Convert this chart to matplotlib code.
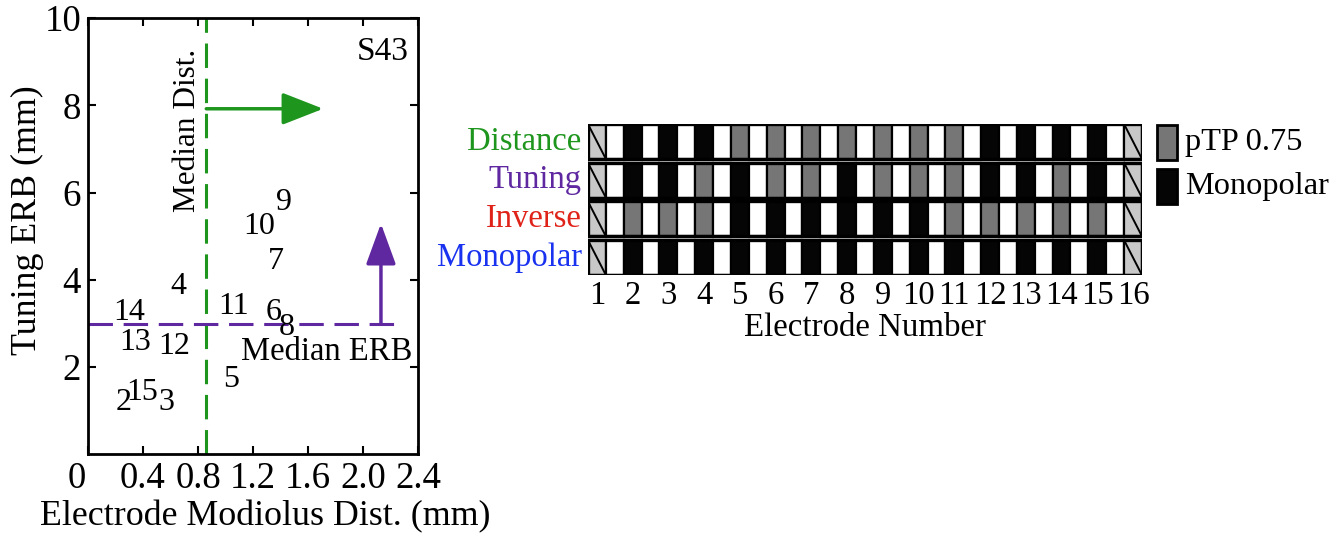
import numpy as np
import matplotlib
matplotlib.use("Agg")
import matplotlib.pyplot as plt
import matplotlib.transforms as mtransforms
from matplotlib.patches import FancyArrowPatch

plt.rcParams["font.family"] = ["Liberation Serif", "DejaVu Serif"]

# electrode modiolus distance vs. tuning ERB, one label per electrode
electrodes = ["2", "3", "4", "5", "6", "7", "8", "9", "10", "11", "12", "13", "14", "15"]
dist_mm = [0.20, 0.51, 0.60, 0.98, 1.29, 1.31, 1.39, 1.37, 1.13, 0.95, 0.51, 0.23, 0.18, 0.28]
erb_mm = [1.18, 1.20, 3.84, 1.71, 3.25, 4.41, 2.90, 5.77, 5.22, 3.38, 2.47, 2.56, 3.25, 1.41]
median_dist = 0.86
median_erb = 3.0
subject = "S43"

# stimulation mode per electrode (1..16) for each strategy; 0 = off, 1 = pTP, 2 = MP
strategies = ["Distance", "Tuning", "Inverse", "Monopolar"]
strategy_colors = ["#1e961e", "#5f28a0", "#e02319", "#1932f0"]
modes = {
    "Distance":  [0, 2, 2, 2, 1, 1, 1, 1, 1, 1, 1, 2, 2, 2, 2, 0],
    "Tuning":    [0, 2, 2, 1, 2, 1, 1, 2, 1, 1, 1, 2, 2, 1, 2, 0],
    "Inverse":   [0, 1, 1, 1, 2, 2, 2, 2, 2, 2, 1, 1, 1, 1, 1, 0],
    "Monopolar": [0, 2, 2, 2, 2, 2, 2, 2, 2, 2, 2, 2, 2, 2, 2, 0],
}
electrode_numbers = list(range(1, 17))

GREEN = strategy_colors[0]
PURPLE = strategy_colors[1]
mode_fill = {0: "#c8c8c8", 1: "#767676", 2: "#050505"}

fig = plt.figure(figsize=(13.4, 5.35), dpi=100)

# ---- scatter of electrode numbers ----
ax = fig.add_axes([0.0657, 0.1505, 0.2463, 0.8159])
for lab, x, y in zip(electrodes, dist_mm, erb_mm):
    ax.text(x, y, lab, fontsize=23, ha="left", va="center")
ax.plot([median_dist, median_dist], [0, 10], color=GREEN, lw=2.2,
        dashes=(8, 3.5))
ax.plot([0, 2.29], [median_erb, median_erb], color=PURPLE, lw=2.2,
        dashes=(8, 3.5))
ax.add_patch(FancyArrowPatch((median_dist, 7.92), (1.71, 7.92),
                             arrowstyle="-|>,head_length=1.15,head_width=0.45",
                             mutation_scale=22, color=GREEN, lw=2.5,
                             shrinkA=0, shrinkB=0))
ax.add_patch(FancyArrowPatch((2.13, median_erb), (2.13, 5.29),
                             arrowstyle="-|>,head_length=1.15,head_width=0.42",
                             mutation_scale=22, color=PURPLE, lw=2.5,
                             shrinkA=0, shrinkB=0))
ax.text(0.72, 7.42, "Median Dist.", rotation=90, fontsize=22.5,
        ha="center", va="center")
ax.text(1.11, 2.35, "Median ERB", fontsize=23.5, ha="left", va="center")
ax.text(2.33, 9.23, subject, fontsize=24, ha="right", va="center")

ax.set_xlim(0, 2.4)
ax.set_ylim(0, 10)
ax.set_xticks(np.arange(0, 2.41, 0.4))
ax.set_xticklabels(["0", "0.4", "0.8", "1.2", "1.6", "2.0", "2.4"])
ax.set_yticks([2, 4, 6, 8, 10])
ax.tick_params(direction="in", top=True, right=True, labelsize=26.5,
               length=6, width=1.5, pad=5)
# the origin label sits a little to the left of the corner
zero_lab = ax.get_xticklabels()[0]
zero_lab.set_transform(zero_lab.get_transform() +
                       mtransforms.ScaledTranslation(-0.11, 0, fig.dpi_scale_trans))
for s in ax.spines.values():
    s.set_linewidth(2)
ax.set_xlabel("Electrode Modiolus Dist. (mm)", fontsize=25.8, va="center")
ax.xaxis.set_label_coords(0.536, -0.143)
ax.set_ylabel("Tuning ERB (mm)", fontsize=25.8, va="center")
ax.yaxis.set_label_coords(-0.182, 0.537)

# ---- electrode configuration grid ----
ag = fig.add_axes([0.4388, 0.486, 0.4134, 0.282])
n_el = len(electrode_numbers)
n_cells = 2 * n_el - 1
row_h = 0.9
for i, (name, col) in enumerate(zip(strategies, strategy_colors)):
    y0 = len(strategies) - 1 - i
    cell_x = np.arange(n_cells)
    fills = []
    for c in cell_x:
        if c % 2 == 1:
            fills.append("white")
        else:
            fills.append(mode_fill[modes[name][c // 2]])
    ag.bar(cell_x, row_h, bottom=y0, width=1, align="edge", color=fills,
           edgecolor="black", linewidth=1.6)
    # disabled end electrodes are crossed
    for c in (0, n_cells - 1):
        ag.plot([c, c + 1], [y0 + row_h, y0], color="black", lw=1.4)
    ag.add_patch(plt.Rectangle((0, y0), n_cells, row_h, fill=False,
                               edgecolor="black", lw=2.4))
    ag.text(-0.35, y0 + row_h / 2, name, color=col, fontsize=23.5,
            ha="right", va="center")

ag.set_xlim(0, n_cells)
ag.set_ylim(0, len(strategies) - 1 + row_h)
ag.set_xticks([2 * (k - 1) + 0.5 for k in electrode_numbers])
ag.set_xticklabels([str(k) for k in electrode_numbers])
ag.set_yticks([])
ag.tick_params(axis="x", length=0, labelsize=23.5, pad=4)
for s in ag.spines.values():
    s.set_visible(False)
ag.set_xlabel("Electrode Number", fontsize=23.7, labelpad=1)

# legend swatches
for j, (lab, m) in enumerate([("pTP 0.75", 1), ("Monopolar", 2)]):
    yb = 0.701 - j * 0.082
    fig.patches.append(plt.Rectangle((0.8637, yb), 0.0149, 0.066,
                                     transform=fig.transFigure,
                                     facecolor=mode_fill[m],
                                     edgecolor="black", lw=2))
    fig.text(0.8843, yb + 0.033, lab, fontsize=23.3, ha="left", va="center")

fig.savefig("out.png", dpi=100)
